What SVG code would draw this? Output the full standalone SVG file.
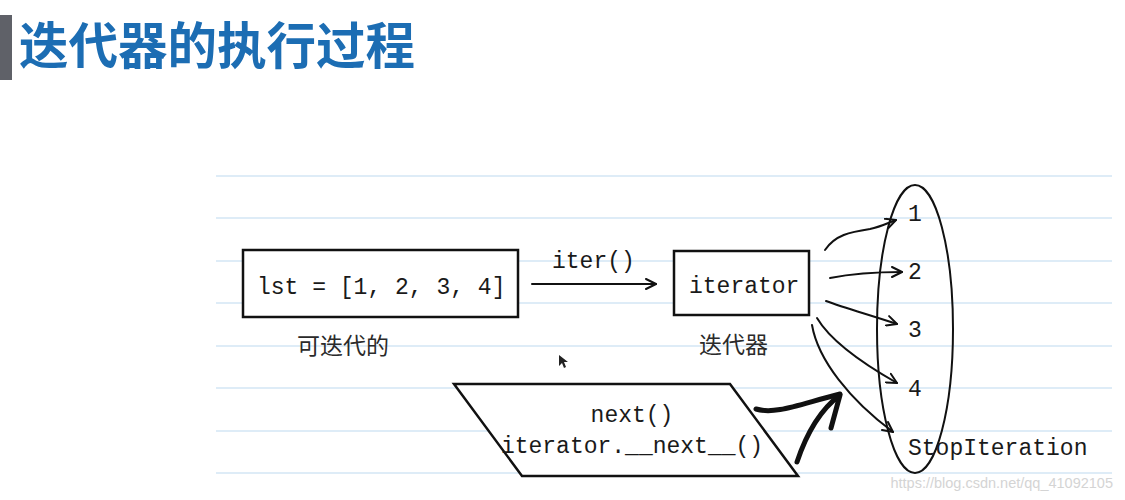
<svg xmlns="http://www.w3.org/2000/svg" width="1125" height="500" viewBox="0 0 1125 500">
  <defs>
    <style>
      .rule { stroke: #d3e6f5; stroke-width: 1.5; }
      .mono { font-family: "Liberation Mono", "DejaVu Sans Mono", monospace; font-size: 23px; fill: #1a1a1a; }
      .cjk { font-family: "Noto Sans CJK SC", "Noto Sans", sans-serif; font-size: 23px; fill: #2a2a2a; }
      .box { fill: #ffffff; stroke: #111111; stroke-width: 2.5; }
      .thin { fill: none; stroke: #111111; stroke-width: 2; stroke-linecap: round; }
      .thick { fill: none; stroke: #111111; stroke-width: 5; stroke-linecap: round; stroke-linejoin: round; }
    </style>
    <marker id="open" viewBox="0 0 12 12" refX="11" refY="6" markerWidth="12" markerHeight="12" markerUnits="userSpaceOnUse" orient="auto">
      <path d="M1,1 L11,6 L1,11" fill="none" stroke="#111111" stroke-width="2" stroke-linecap="round" stroke-linejoin="round"/>
    </marker>
  </defs>

  <rect width="1125" height="500" fill="#ffffff"/>

  <!-- title -->
  <g id="title">
    <rect x="0" y="15" width="12" height="65" fill="#5f6168"/>
    <text x="19" y="64" font-family="Noto Sans CJK SC, sans-serif" font-size="49.5" font-weight="bold" fill="#1c6db3">迭代器的执行过程</text>
  </g>

  <!-- notebook rules -->
  <g id="rules">
    <line class="rule" x1="216" y1="176" x2="1112" y2="176"/>
    <line class="rule" x1="216" y1="218" x2="1112" y2="218"/>
    <line class="rule" x1="216" y1="261" x2="1112" y2="261"/>
    <line class="rule" x1="216" y1="303" x2="1112" y2="303"/>
    <line class="rule" x1="216" y1="346" x2="1112" y2="346"/>
    <line class="rule" x1="216" y1="388" x2="1112" y2="388"/>
    <line class="rule" x1="216" y1="431" x2="1112" y2="431"/>
    <line class="rule" x1="216" y1="473" x2="1112" y2="473"/>
  </g>

  <!-- iterable -->
  <g id="iterable">
    <rect class="box" x="243" y="250" width="275" height="67"/>
    <text class="mono" x="257" y="294">lst = [1, 2, 3, 4]</text>
    <text class="cjk" x="297" y="354">可迭代的</text>
  </g>

  <!-- iterator -->
  <g id="iterator">
    <rect class="box" x="674" y="251" width="135" height="64"/>
    <text class="mono" x="689" y="293">iterator</text>
    <text class="cjk" x="699" y="353">迭代器</text>
  </g>

  <!-- next call -->
  <g id="next-call">
    <polygon class="box" points="454,384 730,384 798,476 522,476"/>
    <text class="mono" x="632" y="422" text-anchor="middle">next()</text>
    <text class="mono" x="632" y="453" text-anchor="middle">iterator.__next__()</text>
  </g>

  <!-- results -->
  <g id="results">
    <ellipse cx="915" cy="329" rx="38" ry="144" fill="none" stroke="#111111" stroke-width="2"/>
    <text class="mono" x="908" y="221" font-size="22">1</text>
    <text class="mono" x="908" y="279" font-size="22">2</text>
    <text class="mono" x="908" y="337" font-size="22">3</text>
    <text class="mono" x="908" y="396">4</text>
    <text class="mono" x="908" y="455">StopIteration</text>
  </g>

  <!-- connectors -->
  <g id="connectors">
    <line class="thin" x1="532" y1="284" x2="656" y2="284" marker-end="url(#open)"/>
    <text class="mono" x="552" y="268">iter()</text>
    <path class="thin" d="M825,250 C835,235 850,232 870,229 C880,227 888,223 896,220" marker-end="url(#open)"/>
    <path class="thin" d="M830,278 C850,274 875,272 902,272" marker-end="url(#open)"/>
    <path class="thin" d="M826,301 C845,308 870,315 897,324" marker-end="url(#open)"/>
    <path class="thin" d="M817,318 C830,340 860,362 897,383" marker-end="url(#open)"/>
    <path class="thin" d="M812,325 C818,360 850,400 893,432" marker-end="url(#open)"/>
    <path class="thick" d="M756,409 C775,415 800,404 840,394"/>
    <path class="thick" d="M797,462 C806,435 820,410 840,395 L831,428"/>
  </g>

  <!-- mouse pointer -->
  <polygon points="559,355 559,366 562,363 564,368 566,367 564,362 568,362" fill="#222222"/>

  <text x="1113" y="488" text-anchor="end" font-family="Liberation Sans, Arial, sans-serif" font-size="14.5" fill="#d4d4d4">https://blog.csdn.net/qq_41092105</text>
</svg>
